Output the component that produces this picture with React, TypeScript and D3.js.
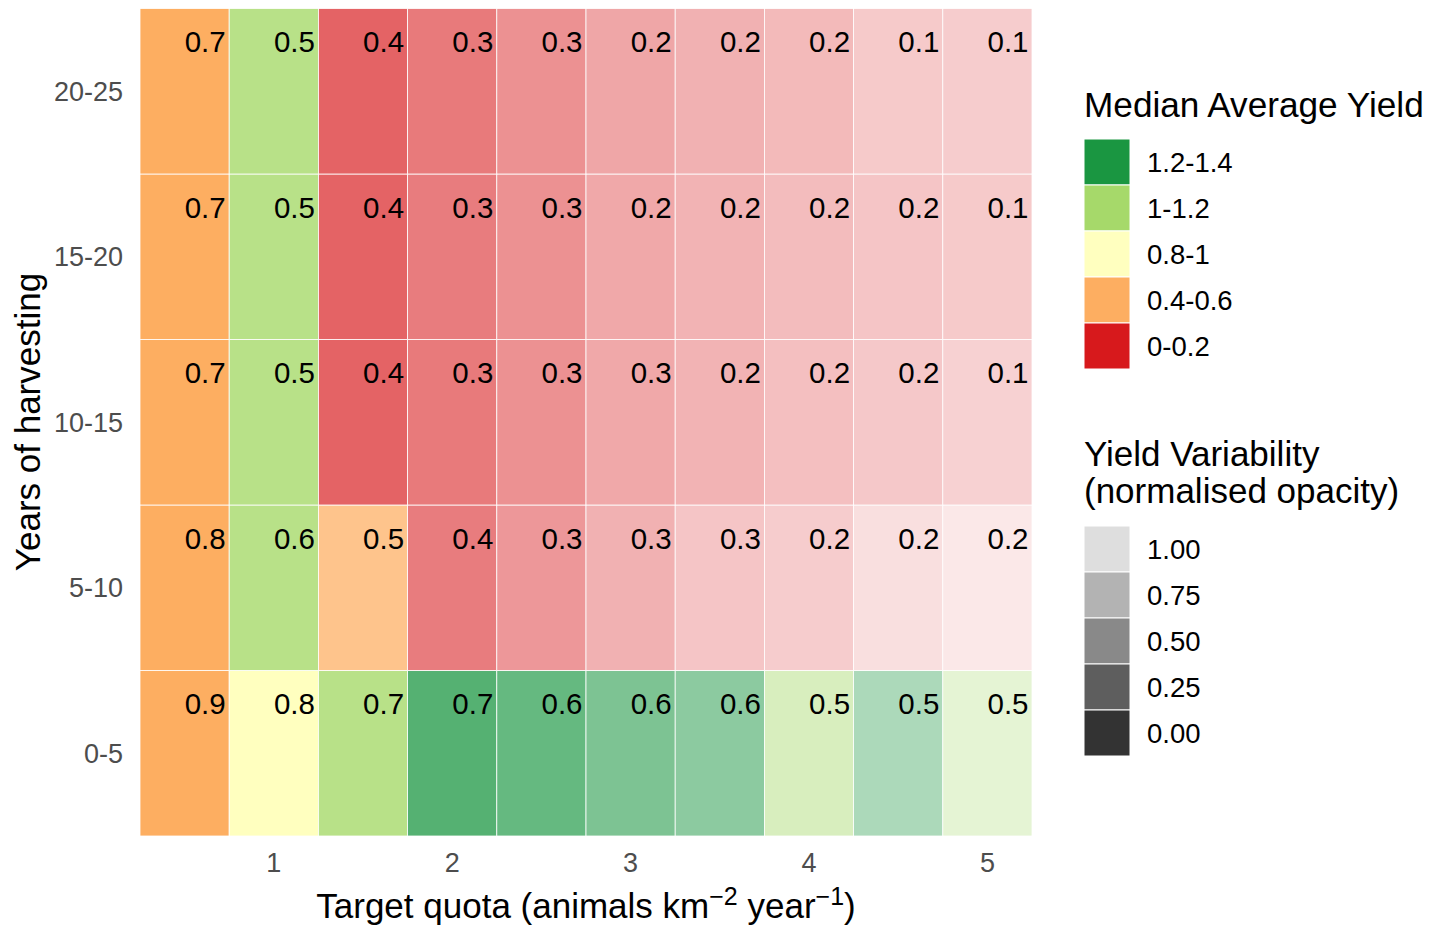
import React from "react";
import * as d3 from "d3";

const quotas = [0.5, 1, 1.5, 2, 2.5, 3, 3.5, 4, 4.5, 5];
const years = ["0-5", "5-10", "10-15", "15-20", "20-25"];
const xTicks = [1, 2, 3, 4, 5];

const yieldCategories = ["1.2-1.4", "1-1.2", "0.8-1", "0.4-0.6", "0-0.2"];
const categoryColors = ["#1a9641", "#a6d96a", "#ffffbf", "#fdae61", "#d7191c"];

const opacityLevels = ["1.00", "0.75", "0.50", "0.25", "0.00"];
const opacityColors = ["#dedede", "#b3b3b3", "#898989", "#5e5e5e", "#333333"];

// rows follow `years`
const cellLabels = [
  [0.9, 0.8, 0.7, 0.7, 0.6, 0.6, 0.6, 0.5, 0.5, 0.5],
  [0.8, 0.6, 0.5, 0.4, 0.3, 0.3, 0.3, 0.2, 0.2, 0.2],
  [0.7, 0.5, 0.4, 0.3, 0.3, 0.3, 0.2, 0.2, 0.2, 0.1],
  [0.7, 0.5, 0.4, 0.3, 0.3, 0.2, 0.2, 0.2, 0.2, 0.1],
  [0.7, 0.5, 0.4, 0.3, 0.3, 0.2, 0.2, 0.2, 0.1, 0.1],
];

const cellCategories = [
  ["0.4-0.6", "0.8-1", "1-1.2", "1.2-1.4", "1.2-1.4", "1.2-1.4", "1.2-1.4", "1-1.2", "1.2-1.4", "1-1.2"],
  ["0.4-0.6", "1-1.2", "0.4-0.6", "0-0.2", "0-0.2", "0-0.2", "0-0.2", "0-0.2", "0-0.2", "0-0.2"],
  ["0.4-0.6", "1-1.2", "0-0.2", "0-0.2", "0-0.2", "0-0.2", "0-0.2", "0-0.2", "0-0.2", "0-0.2"],
  ["0.4-0.6", "1-1.2", "0-0.2", "0-0.2", "0-0.2", "0-0.2", "0-0.2", "0-0.2", "0-0.2", "0-0.2"],
  ["0.4-0.6", "1-1.2", "0-0.2", "0-0.2", "0-0.2", "0-0.2", "0-0.2", "0-0.2", "0-0.2", "0-0.2"],
];

const cellOpacity = [
  [1, 1, 0.8, 0.74, 0.67, 0.57, 0.5, 0.44, 0.36, 0.29],
  [1, 0.8, 0.73, 0.57, 0.45, 0.34, 0.25, 0.22, 0.14, 0.1],
  [1, 0.8, 0.68, 0.58, 0.48, 0.38, 0.33, 0.28, 0.24, 0.2],
  [1, 0.8, 0.68, 0.57, 0.48, 0.38, 0.33, 0.29, 0.25, 0.23],
  [1, 0.8, 0.68, 0.58, 0.48, 0.39, 0.34, 0.3, 0.23, 0.22],
];

const FONT = "'Liberation Sans', Arial, Helvetica, sans-serif";

export default function App() {
  const panel = { left: 140, right: 1032, top: 8.5, bottom: 836 };
  const x = d3.scaleLinear().domain([0.25, 5.25]).range([panel.left, panel.right]);
  const y = d3
    .scaleBand<string>()
    .domain([...years].reverse())
    .range([panel.top, panel.bottom])
    .padding(0);
  const color = d3.scaleOrdinal<string, string>().domain(yieldCategories).range(categoryColors);
  const cellW = x(0.5) - x(0);

  const cells: any[] = [];
  years.forEach((yr, r) => {
    quotas.forEach((q, c) => {
      cells.push({
        yr,
        q,
        label: cellLabels[r][c],
        cat: cellCategories[r][c],
        op: cellOpacity[r][c],
      });
    });
  });

  const legendX = 1084;
  const keySize = 46;
  const leg1Top = 139;
  const leg2Top = 526;

  return (
    <svg
      width={1439}
      height={928}
      style={{ position: "absolute", left: 0, top: 0, background: "#fff" }}
      fontFamily={FONT}
    >
      <rect x={0} y={0} width={1439} height={928} fill="#fff" />
      {cells.map((d, i) => (
        <rect
          key={i}
          x={x(d.q) - cellW / 2}
          y={y(d.yr)!}
          width={cellW}
          height={y.bandwidth()}
          fill={color(d.cat)}
          fillOpacity={d.op}
          stroke="#fff"
          strokeWidth={0.8}
        />
      ))}
      {cells.map((d, i) => (
        <text
          key={"t" + i}
          x={x(d.q) + cellW / 2 - 3.5}
          y={y(d.yr)! + 43.5}
          textAnchor="end"
          fontSize={29.5}
          fill="#000"
        >
          {d3.format(".1f")(d.label)}
        </text>
      ))}
      {years.map((yr) => (
        <text
          key={yr}
          x={123}
          y={y(yr)! + y.bandwidth() / 2}
          dy="0.36em"
          textAnchor="end"
          fontSize={27}
          fill="#4d4d4d"
        >
          {yr}
        </text>
      ))}
      {xTicks.map((t) => (
        <text key={t} x={x(t)} y={872} textAnchor="middle" fontSize={27} fill="#4d4d4d">
          {t}
        </text>
      ))}
      <text x={586} y={918} textAnchor="middle" fontSize={35} fill="#000">
        Target quota (animals km
        <tspan fontSize={25} dy={-13}>−2</tspan>
        <tspan dy={13}> year</tspan>
        <tspan fontSize={25} dy={-13}>−1</tspan>
        <tspan dy={13}>)</tspan>
      </text>
      <text
        transform="translate(40,422) rotate(-90)"
        textAnchor="middle"
        fontSize={35}
        fill="#000"
      >
        Years of harvesting
      </text>

      <text x={legendX} y={117} fontSize={35.2} fill="#000">
        Median Average Yield
      </text>
      {yieldCategories.map((c, i) => (
        <g key={c}>
          <rect
            x={legendX}
            y={leg1Top + i * keySize}
            width={46}
            height={keySize}
            fill={color(c)}
            stroke="#fff"
            strokeWidth={1}
          />
          <text x={1147} y={leg1Top + i * keySize + keySize / 2} dy="0.36em" fontSize={27.5} fill="#000">
            {c}
          </text>
        </g>
      ))}

      <text x={legendX} y={502} fontSize={35} fill="#000">
        <tspan x={legendX} y={466}>Yield Variability</tspan>
        <tspan x={legendX} y={503}>(normalised opacity)</tspan>
      </text>
      {opacityLevels.map((c, i) => (
        <g key={c}>
          <rect
            x={legendX}
            y={leg2Top + i * keySize}
            width={46}
            height={keySize}
            fill={opacityColors[i]}
            stroke="#fff"
            strokeWidth={1}
          />
          <text x={1147} y={leg2Top + i * keySize + keySize / 2} dy="0.36em" fontSize={27.5} fill="#000">
            {c}
          </text>
        </g>
      ))}
    </svg>
  );
}
